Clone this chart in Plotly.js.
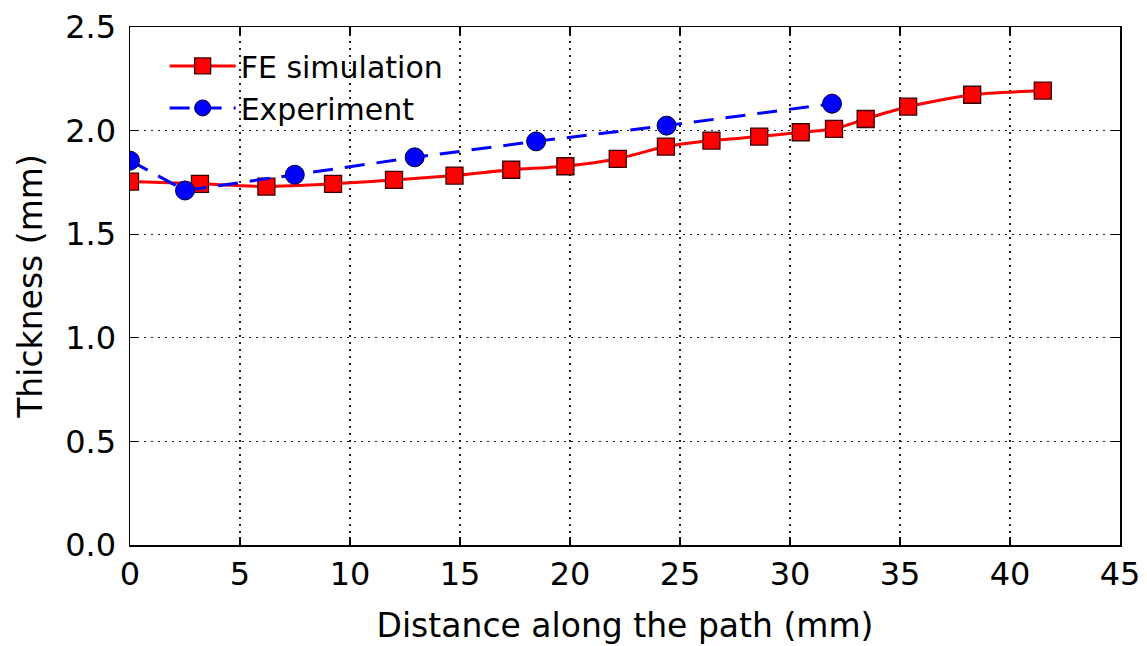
<!DOCTYPE html>
<html>
<head>
<meta charset="utf-8">
<script src="https://cdn.plot.ly/plotly-3.0.1.min.js"></script>
<style>html,body{margin:0;padding:0;background:#fff;}#chart{width:1147px;height:646px;}</style>
</head>
<body>
<div id="chart"></div>
<script>
const feDistance = [0, 3.18, 6.2, 9.23, 12.0, 14.75, 17.33, 19.79, 22.17, 24.36, 26.43, 28.6, 30.49, 32.0, 33.44, 35.37, 38.28, 41.49];
const feThickness = [1.754, 1.743, 1.730, 1.743, 1.762, 1.783, 1.811, 1.828, 1.864, 1.923, 1.952, 1.971, 1.992, 2.008, 2.056, 2.116, 2.173, 2.193];
const expDistance = [0, 2.5, 7.49, 12.94, 18.46, 24.39, 31.91];
const expThickness = [1.855, 1.711, 1.787, 1.871, 1.948, 2.024, 2.13];
const xTicks = [0, 5, 10, 15, 20, 25, 30, 35, 40, 45];
const yTicks = [0.0, 0.5, 1.0, 1.5, 2.0, 2.5];

const fontFamily = 'DejaVu Sans, sans-serif';

const traces = [
  {
    x: feDistance, y: feThickness, name: 'FE simulation', type: 'scatter', mode: 'lines+markers',
    line: {color: '#ff0000', width: 3, shape: 'spline', smoothing: 0.6},
    marker: {symbol: 'square', size: 17, color: '#ff0000', line: {color: '#3a0000', width: 1.3}}
  },
  {
    x: expDistance, y: expThickness, name: 'Experiment', type: 'scatter', mode: 'lines+markers',
    line: {color: '#0000ff', width: 3, dash: '20px,12px'},
    marker: {symbol: 'circle', size: 19, color: '#0000ff', line: {color: '#00002a', width: 1}}
  }
];

const axisCommon = {
  showline: true, linecolor: '#000', linewidth: 1.5, mirror: 'ticks',
  ticks: 'inside', ticklen: 8, tickcolor: '#000', tickwidth: 1.2,
  showgrid: true, gridcolor: '#222', gridwidth: 1.2, griddash: '2px,5px',
  zeroline: false, tickfont: {family: fontFamily, size: 32, color: '#000'}
};

const layout = {
  width: 1147, height: 646,
  margin: {l: 130, r: 27, t: 27, b: 101},
  paper_bgcolor: '#fff', plot_bgcolor: '#fff',
  showlegend: true,
  legend: {x: 0.035, y: 0.975, xanchor: 'left', yanchor: 'top', bgcolor: 'rgba(0,0,0,0)',
           itemwidth: 66,
           font: {family: fontFamily, size: 30, color: '#000'}, tracegroupgap: 0},
  xaxis: Object.assign({}, axisCommon, {
    range: [0, 45], tickvals: xTicks, ticktext: xTicks.map(String),
    title: {text: 'Distance along the path (mm)', font: {family: fontFamily, size: 33, color: '#000'}, standoff: 22}
  }),
  yaxis: Object.assign({}, axisCommon, {
    range: [0, 2.5], tickvals: yTicks, ticktext: yTicks.map(v => v.toFixed(1)),
    ticklabelstandoff: 6,
    title: {text: 'Thickness (mm)', font: {family: fontFamily, size: 33, color: '#000'}, standoff: 12}
  })
};

Plotly.newPlot('chart', traces, layout, {displayModeBar: false, staticPlot: true});
</script>
</body>
</html>
